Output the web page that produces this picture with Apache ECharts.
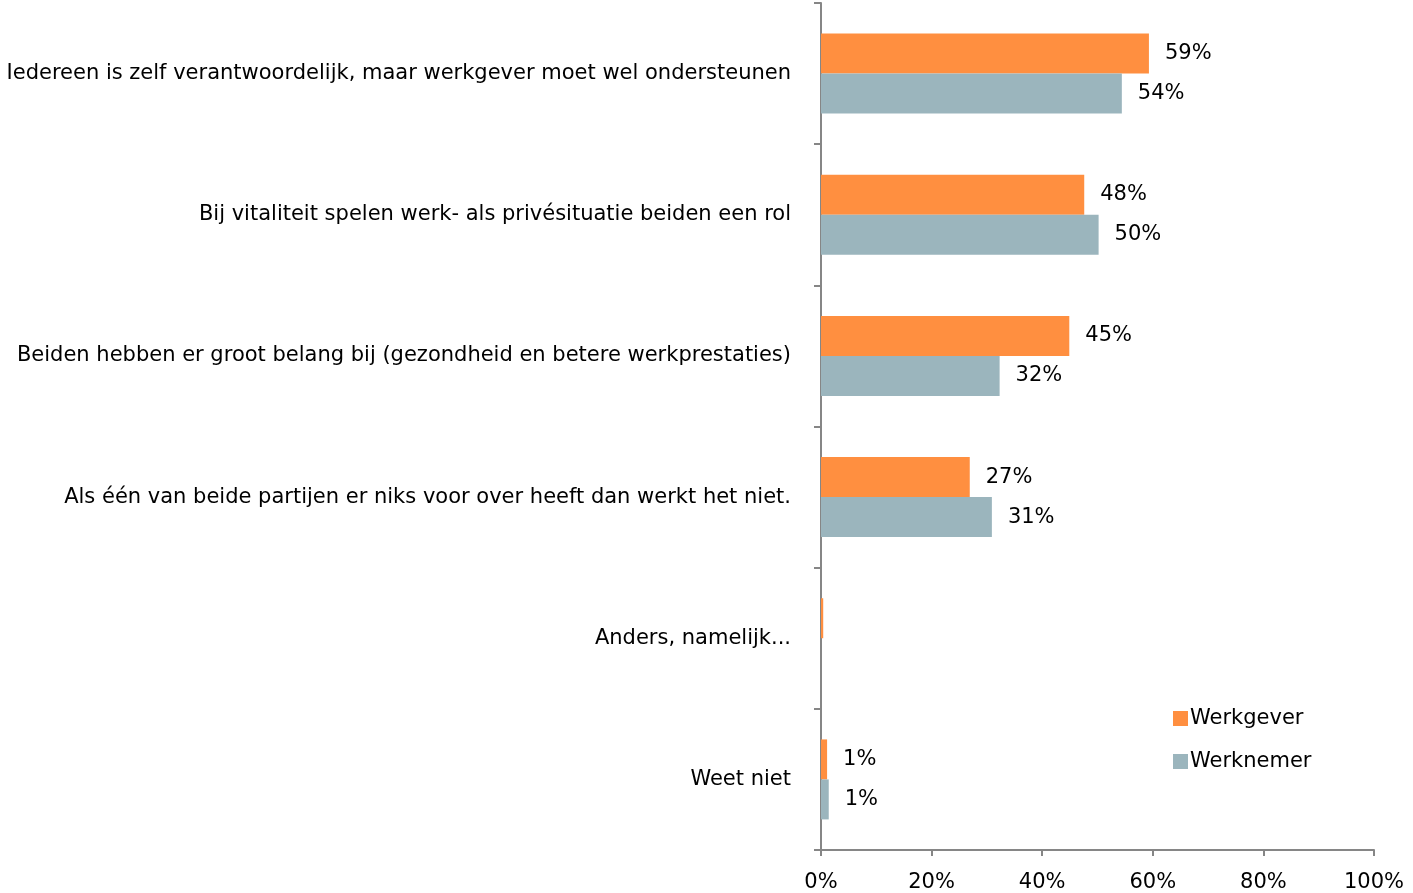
<!DOCTYPE html>
<html>
<head>
<meta charset="utf-8">
<script src="https://cdn.jsdelivr.net/npm/echarts@6/dist/echarts.min.js"></script>
<style>html,body{margin:0;padding:0;background:#fff}#c{width:1413px;height:893px}</style>
</head>
<body>
<div id="c"></div>
<script>
const categories = [
  'Iedereen is zelf verantwoordelijk, maar werkgever moet wel ondersteunen',
  'Bij vitaliteit spelen werk- als privésituatie beiden een rol',
  'Beiden hebben er groot belang bij (gezondheid en betere werkprestaties)',
  'Als één van beide partijen er niks voor over heeft dan werkt het niet.',
  'Anders, namelijk...',
  'Weet niet'
];
const werkgever = [59.3, 47.6, 44.9, 26.9, 0.4, 1.1];
const werknemer = [54.4, 50.2, 32.3, 30.9, 0, 1.4];
const xTicks = [0, 20, 40, 60, 80, 100];

const font = 'DejaVu Sans';
const fs = 21;
const chart = echarts.init(document.getElementById('c'));
const lbl = {
  show: true, position: 'right', distance: 16, color: '#000', fontSize: fs, fontFamily: font,
  formatter: p => p.value < 0.5 ? '' : Math.round(p.value) + '%'
};
chart.setOption({
  animation: false,
  grid: { left: 821, right: 39, top: 3, bottom: 41, containLabel: false },
  legend: {
    orient: 'vertical', left: 1173, top: 708, padding: 0, itemWidth: 15, itemHeight: 15, itemGap: 22,
    icon: 'rect', textStyle: { fontSize: fs, fontFamily: font, color: '#000', padding: [0, 0, 0, -3] },
    data: ['Werkgever', 'Werknemer']
  },
  xAxis: {
    type: 'value', min: 0, max: 100, interval: 20,
    axisLine: { show: true, lineStyle: { color: '#868686', width: 2 } },
    axisTick: { show: true, length: 6, lineStyle: { color: '#868686', width: 2 } },
    splitLine: { show: false },
    axisLabel: { margin: 22, fontSize: fs, fontFamily: font, color: '#000', formatter: v => xTicks.includes(v) ? v + '%' : '' }
  },
  yAxis: {
    type: 'category', data: categories, inverse: true,
    axisLine: { show: true, lineStyle: { color: '#868686', width: 2 } },
    axisTick: { show: true, length: 7, lineStyle: { color: '#868686', width: 2 } },
    axisLabel: { margin: 30, fontSize: fs, fontFamily: font, color: '#000' }
  },
  series: [
    { name: 'Werkgever', type: 'bar', data: werkgever, barWidth: 40, barGap: '0%', itemStyle: { color: '#FF8F40' }, label: lbl },
    { name: 'Werknemer', type: 'bar', data: werknemer, barWidth: 40, barGap: '0%', itemStyle: { color: '#9BB5BD' }, label: lbl }
  ]
});
</script>
</body>
</html>
